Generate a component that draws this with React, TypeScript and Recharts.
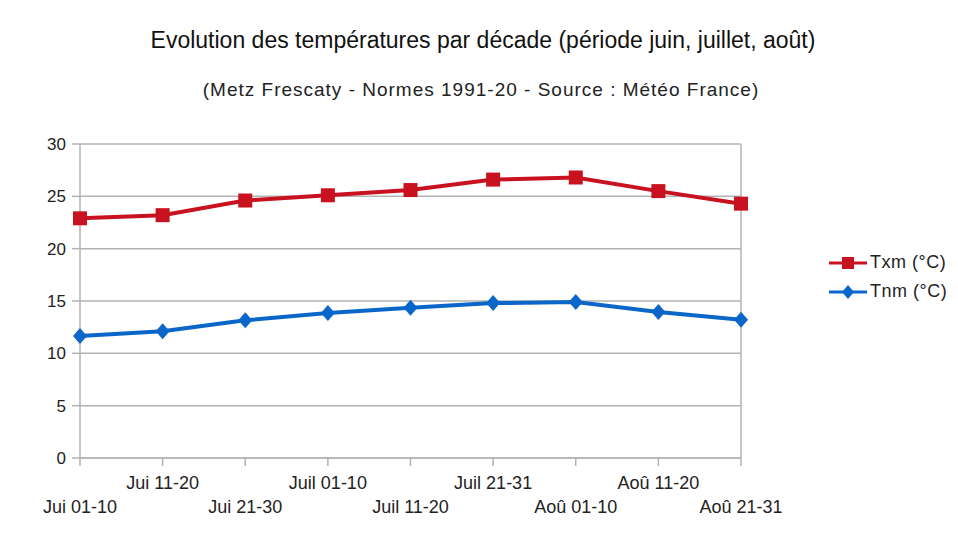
import { LineChart, Line, XAxis, YAxis, CartesianGrid, ReferenceLine } from 'recharts'

const categories = [
  'Jui 01-10', 'Jui 11-20', 'Jui 21-30',
  'Juil 01-10', 'Juil 11-20', 'Juil 21-31',
  'Aoû 01-10', 'Aoû 11-20', 'Aoû 21-31',
]
const txm = [22.9, 23.2, 24.6, 25.1, 25.6, 26.6, 26.8, 25.5, 24.3]
const tnm = [11.65, 12.1, 13.15, 13.85, 14.35, 14.8, 14.9, 13.95, 13.2]
const yTicks = [0, 5, 10, 15, 20, 25, 30]

const RED = '#c9121f'
const BLUE = '#0a66c8'
const GRID = '#b3b3b3'
const FONT = '"Liberation Sans", Arial, sans-serif'

const data = categories.map((label, i) => ({ label, txm: txm[i], tnm: tnm[i] }))

const SquareDot = (props: any) => {
  const { cx, cy } = props
  if (cx == null || cy == null) return null
  return <rect x={cx - 7} y={cy - 7} width={14} height={14} fill={RED} />
}

const DiamondDot = (props: any) => {
  const { cx, cy } = props
  if (cx == null || cy == null) return null
  return <polygon points={`${cx},${cy - 8} ${cx + 7},${cy} ${cx},${cy + 8} ${cx - 7},${cy}`} fill={BLUE} />
}

const XTick = (props: any) => {
  const { x, y, payload, index } = props
  const dy = index % 2 === 1 ? 21 : 45
  return (
    <text x={x} y={y + dy} textAnchor="middle" fill="#222" fontSize={18} fontFamily={FONT}>
      {payload.value}
    </text>
  )
}

const legendItems = [
  { name: 'Txm (°C)', color: RED, shape: 'square' },
  { name: 'Tnm (°C)', color: BLUE, shape: 'diamond' },
]

export default function App() {
  return (
    <div style={{ position: 'absolute', left: 0, top: 0, width: 958, height: 546, background: '#fff', fontFamily: FONT }}>
      <div style={{ position: 'absolute', left: 0, top: 27, width: 966, textAlign: 'center', fontSize: 23, color: '#111' }}>
        Evolution des températures par décade (période juin, juillet, août)
      </div>
      <div style={{ position: 'absolute', left: 0, top: 79, width: 962, textAlign: 'center', fontSize: 19, letterSpacing: 1, color: '#222' }}>
        (Metz Frescaty - Normes 1991-20 - Source : Météo France)
      </div>
      <LineChart width={958} height={546} data={data} margin={{ top: 144, right: 217, left: 0, bottom: 28 }}>
        <CartesianGrid vertical={false} stroke={GRID} strokeWidth={1.5} />
        <ReferenceLine x="Aoû 21-31" stroke={GRID} strokeWidth={1.5} />
        <XAxis
          dataKey="label"
          interval={0}
          height={60}
          padding={{ left: 0, right: 0 }}
          stroke={GRID}
          strokeWidth={1.5}
          tickSize={8}
          tick={<XTick />}
        />
        <YAxis
          domain={[0, 30]}
          ticks={yTicks}
          width={80}
          stroke={GRID}
          strokeWidth={1.5}
          tickSize={8}
          tickMargin={6}
          tick={{ fill: '#222', fontSize: 17, fontFamily: FONT }}
        />
        <Line dataKey="txm" stroke={RED} strokeWidth={4} dot={<SquareDot />} isAnimationActive={false} />
        <Line dataKey="tnm" stroke={BLUE} strokeWidth={4} dot={<DiamondDot />} isAnimationActive={false} />
      </LineChart>
      <div style={{ position: 'absolute', left: 829, top: 248 }}>
        {legendItems.map((it) => (
          <div key={it.name} style={{ display: 'flex', alignItems: 'center', height: 29, fontSize: 18, letterSpacing: 0.5, color: '#222' }}>
            <svg width={38} height={16} style={{ marginRight: 3 }}>
              <line x1={0} y1={8} x2={38} y2={8} stroke={it.color} strokeWidth={3} />
              {it.shape === 'square'
                ? <rect x={13} y={2} width={12} height={12} fill={it.color} />
                : <polygon points="19,1 25,8 19,15 13,8" fill={it.color} />}
            </svg>
            {it.name}
          </div>
        ))}
      </div>
    </div>
  )
}
